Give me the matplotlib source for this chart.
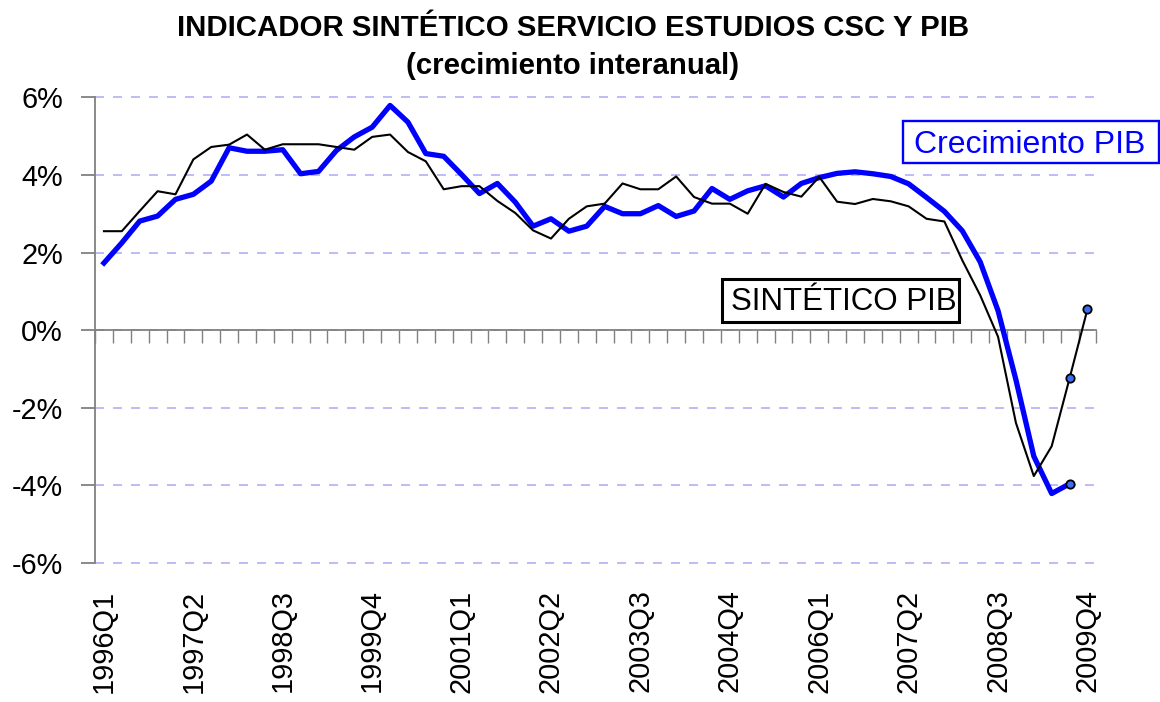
import numpy as np
import matplotlib
matplotlib.use("Agg")
import matplotlib.pyplot as plt
from matplotlib.patches import Rectangle

plt.rcParams['font.family'] = ['Liberation Sans', 'DejaVu Sans']

# ---- data ----
quarters = [f"{y}Q{q}" for y in range(1996, 2010) for q in range(1, 5)]
tick_labels = quarters[::5]

pib = [1.73, 2.25, 2.81, 2.94, 3.37, 3.50, 3.84, 4.70, 4.61, 4.61,
       4.65, 4.03, 4.09, 4.63, 4.98, 5.23, 5.79, 5.36, 4.55, 4.48,
       4.01, 3.52, 3.78, 3.30, 2.68, 2.87, 2.55, 2.68, 3.19, 3.00,
       3.00, 3.21, 2.93, 3.07, 3.65, 3.37, 3.59, 3.72, 3.43, 3.78,
       3.93, 4.04, 4.08, 4.03, 3.96, 3.77, 3.42, 3.06, 2.56, 1.76,
       0.50, -1.28, -3.25, -4.21, -3.96, np.nan]

sintetico = [2.55, 2.55, 3.07, 3.58, 3.50, 4.40, 4.72, 4.78, 5.04, 4.65,
             4.79, 4.79, 4.79, 4.72, 4.65, 4.98, 5.04, 4.59, 4.35, 3.63,
             3.71, 3.71, 3.33, 3.02, 2.57, 2.36, 2.87, 3.19, 3.26, 3.78,
             3.63, 3.63, 3.96, 3.43, 3.26, 3.26, 3.00, 3.77, 3.56, 3.44,
             3.95, 3.31, 3.25, 3.38, 3.32, 3.19, 2.87, 2.80, 1.80, 0.90,
             -0.17, -2.39, -3.76, -2.99, -1.24, 0.54]

yticks = [-6, -4, -2, 0, 2, 4, 6]

W, H = 1160, 702
fig = plt.figure(figsize=(W / 100, H / 100), dpi=100)
left, right, top, bottom = 95, 1096.4, 97.3, 563
ax = fig.add_axes([left / W, 1 - bottom / H, (right - left) / W, (bottom - top) / H])

x = np.arange(len(quarters))
ax.plot(x, pib, color='#0000FF', lw=3.8, zorder=3,
        marker='o', markevery=[54], ms=6, mfc='#3A6EF0', mec='black', mew=1.3)
ax.plot(x, sintetico, color='black', lw=1.5, zorder=4,
        marker='o', markevery=[54, 55], ms=6, mfc='#3A6EF0', mec='black', mew=1.3)

ax.set_xlim(-0.4, len(quarters) - 0.5)
ax.set_ylim(-6, 6)

# spines
for s in ['top', 'right']:
    ax.spines[s].set_visible(False)
ax.spines['left'].set_color('#808080')
ax.spines['left'].set_linewidth(1.3)
ax.spines['bottom'].set_position(('data', 0))
ax.spines['bottom'].set_color('#808080')
ax.spines['bottom'].set_linewidth(1.3)

# x ticks: marks between categories on the zero line
ax.set_xticks([])
ax.set_xticks(np.arange(-0.5, len(quarters), 1), minor=True)
ax.tick_params(axis='x', which='minor', direction='out', length=9, width=1,
               color='#808080', labelbottom=False)

# labels at the bottom of the plot area
sec = ax.secondary_xaxis(0)
sec.set_xticks(x[::5], tick_labels)
sec.tick_params(length=0, pad=19, labelsize=20.8, labelrotation=90)
sec.spines['bottom'].set_visible(False)

# y ticks
ax.set_yticks(yticks, [f"{v}%" for v in yticks])
ax.tick_params(axis='y', direction='out', length=10, width=1.3, color='#808080',
               labelsize=20.8, pad=13)

ax.set_axisbelow(True)
ax.yaxis.grid(True, color='#B0B0F6', lw=1.2, linestyle=(0, (5.4, 5.4)))
for gl in ax.get_ygridlines():
    gl.set_clip_on(False)

# title
fig.text(573 / W, 1 - 36 / H, "INDICADOR SINTÉTICO SERVICIO ESTUDIOS CSC Y PIB",
         ha='center', va='baseline', fontsize=21.2, fontweight='bold')
fig.text(573 / W, 1 - 74 / H, "(crecimiento interanual)",
         ha='center', va='baseline', fontsize=21.2, fontweight='bold')

# annotation boxes
fig.patches.append(Rectangle((903.3 / W, 1 - 163.3 / H), (1159.3 - 903.3) / W,
                             (163.3 - 120.7) / H, transform=fig.transFigure,
                             fill=True, fc='white', ec='#0000FF', lw=1.7, zorder=5))
fig.text(1029.7 / W, 1 - 152.7 / H, "Crecimiento PIB", ha='center', va='baseline',
         fontsize=23, color='#0000FF', zorder=6)

fig.patches.append(Rectangle((721.7 / W, 1 - 321.7 / H), (959.3 - 721.7) / W,
                             (321.7 - 279.3) / H, transform=fig.transFigure,
                             fill=True, fc='white', ec='black', lw=2.2, zorder=5))
fig.text(843.7 / W, 1 - 310 / H, "SINTÉTICO PIB", ha='center', va='baseline',
         fontsize=22.5, color='black', zorder=6)

fig.savefig("out.png", dpi=100)
